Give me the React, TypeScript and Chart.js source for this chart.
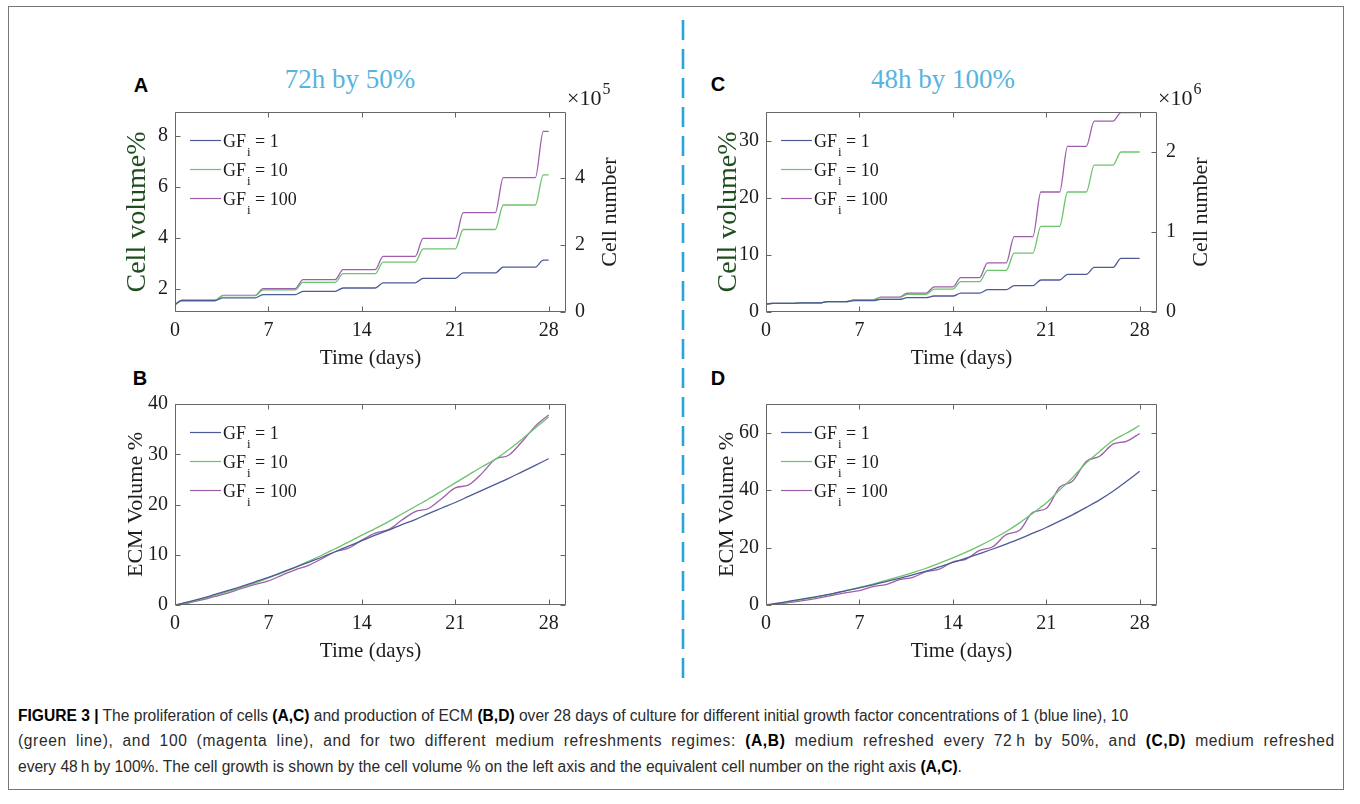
import React, { useEffect, useLayoutEffect, useRef } from "react";
import { Chart, registerables } from "chart.js";

Chart.register(...registerables);

// ---------------- data ----------------
const xTicks = [0, 7, 14, 21, 28];
const X_MAX = 29.3;
const gfLabels = ["1", "10", "100"];

// Panel A: cell volume %, medium refreshed every 72 h by 50%
const daysA = [0, 0.5, 3, 3.6, 6, 6.6, 9, 9.6, 12, 12.6, 15, 15.6, 18, 18.6, 21, 21.6, 24, 24.6, 27, 27.6, 28];
const cellA_gf1 = [1.38, 1.55, 1.55, 1.65, 1.65, 1.78, 1.78, 1.91, 1.91, 2.04, 2.04, 2.24, 2.24, 2.42, 2.42, 2.63, 2.63, 2.86, 2.86, 3.13, 3.13];
const cellA_gf10 = [1.38, 1.55, 1.55, 1.74, 1.74, 1.97, 1.97, 2.26, 2.26, 2.6, 2.6, 3.05, 3.05, 3.57, 3.57, 4.33, 4.33, 5.29, 5.29, 6.47, 6.47];
const cellA_gf100 = [1.38, 1.55, 1.55, 1.75, 1.75, 2.01, 2.01, 2.37, 2.37, 2.76, 2.76, 3.28, 3.28, 3.98, 3.98, 4.99, 4.99, 6.36, 6.36, 8.17, 8.17];
const cellA_leftTicks = [2, 4, 6, 8];
const cellA_rightTicks = [0, 2, 4];

// Panel C: cell volume %, medium refreshed every 48 h by 100%
const daysC = [0, 0.5, 2, 2.6, 4, 4.6, 6, 6.6, 8, 8.6, 10, 10.6, 12, 12.6, 14, 14.6, 16, 16.6, 18, 18.6, 20, 20.6, 22, 22.6, 24, 24.6, 26, 26.6, 28];
const cellC_gf1 = [1.4, 1.5, 1.5, 1.6, 1.6, 1.8, 1.8, 2.0, 2.0, 2.2, 2.2, 2.5, 2.5, 2.8, 2.8, 3.3, 3.3, 3.9, 3.9, 4.6, 4.6, 5.6, 5.6, 6.6, 6.6, 7.8, 7.8, 9.4, 9.4];
const cellC_gf10 = [1.4, 1.5, 1.5, 1.6, 1.6, 1.8, 1.8, 2.1, 2.1, 2.5, 2.5, 3.1, 3.1, 4.0, 4.0, 5.3, 5.3, 7.3, 7.3, 10.3, 10.3, 15.0, 15.0, 21.0, 21.0, 25.7, 25.7, 28.0, 28.0];
const cellC_gf100 = [1.4, 1.5, 1.5, 1.6, 1.6, 1.8, 1.8, 2.1, 2.1, 2.6, 2.6, 3.3, 3.3, 4.4, 4.4, 6.0, 6.0, 8.6, 8.6, 13.2, 13.2, 21.0, 21.0, 29.0, 29.0, 33.4, 33.4, 34.9, 34.9];
const cellC_leftTicks = [0, 10, 20, 30];
const cellC_rightTicks = [0, 1, 2];

// Panels B and D: ECM volume %, sampled daily
const daysECM = [0, 1, 2, 3, 4, 5, 6, 7, 8, 9, 10, 11, 12, 13, 14, 15, 16, 17, 18, 19, 20, 21, 22, 23, 24, 25, 26, 27, 28];
const ecmB_gf1 = [0, 0.6, 1.3, 2.1, 2.9, 3.7, 4.6, 5.5, 6.5, 7.5, 8.5, 9.5, 10.6, 11.7, 12.8, 13.9, 14.9, 16.0, 17.0, 18.2, 19.3, 20.4, 21.6, 22.8, 24.0, 25.2, 26.5, 27.8, 29.1];
const ecmB_gf10 = [0, 0.5, 1.2, 1.9, 2.7, 3.5, 4.4, 5.4, 6.4, 7.5, 8.7, 9.9, 11.2, 12.5, 13.9, 15.2, 16.6, 18.1, 19.6, 21.1, 22.7, 24.3, 25.9, 27.5, 29.0, 30.9, 33.0, 35.2, 37.4];
const ecmB_gf100 = [0, 0.4, 1.0, 1.7, 2.4, 3.3, 4.1, 4.8, 5.9, 7.0, 7.9, 9.2, 10.6, 11.3, 12.9, 14.3, 15.0, 16.9, 18.6, 19.2, 21.2, 23.3, 23.9, 26.2, 29.0, 29.8, 32.5, 35.6, 37.8];
const ecmB_ticks = [0, 10, 20, 30, 40];

const ecmD_gf1 = [0, 0.7, 1.5, 2.3, 3.1, 4.0, 5.0, 6.0, 7.0, 8.1, 9.3, 10.5, 11.8, 13.3, 14.8, 16.3, 17.9, 19.5, 21.2, 23.0, 25.0, 27.0, 29.2, 31.5, 34.0, 36.6, 39.6, 43.0, 46.6];
const ecmD_gf10 = [0, 0.6, 1.3, 2.1, 3.0, 3.9, 5.0, 6.1, 7.3, 8.6, 9.9, 11.3, 12.8, 14.6, 16.4, 18.4, 20.6, 23.0, 25.6, 28.6, 32.0, 35.5, 40.0, 44.5, 49.5, 53.5, 57.3, 59.8, 62.5];
const ecmD_gf100 = [0, 0.4, 1.0, 1.7, 2.5, 3.4, 4.3, 5.0, 6.4, 7.1, 8.8, 9.6, 11.6, 12.5, 15.0, 16.0, 19.0, 20.3, 24.5, 26.0, 32.3, 33.6, 41.0, 43.3, 50.0, 51.8, 56.0, 57.0, 59.7];
const ecmD_ticks = [0, 20, 40, 60];

// ---------------- styles ----------------
const SERIF = '"Liberation Serif", "DejaVu Serif", serif';
const SANS = '"Liberation Sans", Arial, sans-serif';
const COLORS = ["#4d5a98", "#6cc36c", "#9d5fab"];
const AXIS_COLOR = "#666666";
const TEXT_COLOR = "#1c1c1c";
const TITLE_BLUE = "#58b4dd";

const WL = 75;
const WR = 90;
const PT = 45;
const HB = 62;

type RightAxis = { max: number; ticks: number[]; exp: string };
type PanelSpec = {
  left: number;
  top: number;
  width: number;
  height: number;
  days: number[];
  series: number[][];
  yMin: number;
  yMax: number;
  yTicks: number[];
  yTitle: string;
  yTitleColor: string;
  yTitleSize: number;
  yTitleCenter: number;
  right?: RightAxis;
};

const panelA: PanelSpec = {
  left: 175, top: 112, width: 391, height: 200,
  days: daysA, series: [cellA_gf1, cellA_gf10, cellA_gf100],
  yMin: 1.1, yMax: 8.93, yTicks: cellA_leftTicks,
  yTitle: "Cell volume%", yTitleColor: "#1f4d1f", yTitleSize: 28, yTitleCenter: 138,
  right: { max: 5.95, ticks: cellA_rightTicks, exp: "5" },
};
const panelB: PanelSpec = {
  left: 175, top: 404, width: 391, height: 201,
  days: daysECM, series: [ecmB_gf1, ecmB_gf10, ecmB_gf100],
  yMin: 0, yMax: 40, yTicks: ecmB_ticks,
  yTitle: "ECM Volume %", yTitleColor: TEXT_COLOR, yTitleSize: 22, yTitleCenter: 136,
};
const panelC: PanelSpec = {
  left: 766, top: 112, width: 391, height: 200,
  days: daysC, series: [cellC_gf1, cellC_gf10, cellC_gf100],
  yMin: 0, yMax: 35, yTicks: cellC_leftTicks,
  yTitle: "Cell volume%", yTitleColor: "#1f4d1f", yTitleSize: 28, yTitleCenter: 729,
  right: { max: 2.5, ticks: cellC_rightTicks, exp: "6" },
};
const panelD: PanelSpec = {
  left: 766, top: 404, width: 391, height: 201,
  days: daysECM, series: [ecmD_gf1, ecmD_gf10, ecmD_gf100],
  yMin: 0, yMax: 70, yTicks: ecmD_ticks,
  yTitle: "ECM Volume %", yTitleColor: TEXT_COLOR, yTitleSize: 22, yTitleCenter: 727,
};

// ---------------- plugin: MATLAB-like box, inward ticks, legend, right title ----------------
const matlabPlugin = {
  id: "matlab",
  afterDatasetsDraw(chart: any, _args: any, opts: any) {
    const { ctx, chartArea: a, scales } = chart;
    const L = Math.round(a.left) + 0.5;
    const R = Math.round(a.right) - 0.5;
    const T = Math.round(a.top) + 0.5;
    const B = Math.round(a.bottom) - 0.5;
    const TL = 5;
    ctx.save();
    ctx.strokeStyle = AXIS_COLOR;
    ctx.lineWidth = 1;
    ctx.beginPath();
    ctx.rect(L, T, R - L, B - T);
    scales.x.ticks.forEach((t: any) => {
      const px = Math.round(scales.x.getPixelForValue(t.value)) + 0.5;
      ctx.moveTo(px, B);
      ctx.lineTo(px, B - TL);
      ctx.moveTo(px, T);
      ctx.lineTo(px, T + TL);
    });
    scales.y.ticks.forEach((t: any) => {
      const py = Math.round(scales.y.getPixelForValue(t.value)) + 0.5;
      ctx.moveTo(L, py);
      ctx.lineTo(L + TL, py);
      if (!scales.y1) {
        ctx.moveTo(R, py);
        ctx.lineTo(R - TL, py);
      }
    });
    if (scales.y1) {
      scales.y1.ticks.forEach((t: any) => {
        const py = Math.round(scales.y1.getPixelForValue(t.value)) + 0.5;
        ctx.moveTo(R, py);
        ctx.lineTo(R - TL, py);
      });
    }
    ctx.stroke();

    // legend (MATLAB style, no box)
    const rows = [28, 57, 86];
    chart.data.datasets.forEach((ds: any, i: number) => {
      const y = Math.round(a.top + rows[i]) + 0.5;
      ctx.strokeStyle = ds.borderColor;
      ctx.lineWidth = 1.2;
      ctx.beginPath();
      ctx.moveTo(a.left + 15, y);
      ctx.lineTo(a.left + 46, y);
      ctx.stroke();
      ctx.fillStyle = TEXT_COLOR;
      ctx.textAlign = "left";
      ctx.textBaseline = "alphabetic";
      let x = a.left + 48;
      ctx.font = `18px ${SERIF}`;
      ctx.fillText("GF", x, y + 6);
      x += ctx.measureText("GF").width;
      ctx.font = `13px ${SERIF}`;
      ctx.fillText("i", x + 1, y + 15);
      x += ctx.measureText("i").width + 1;
      ctx.font = `18px ${SERIF}`;
      ctx.fillText(" = " + ds.label, x, y + 6);
    });

    // right axis title and exponent
    if (opts && opts.rightTitle) {
      ctx.fillStyle = TEXT_COLOR;
      ctx.font = `22px ${SERIF}`;
      ctx.save();
      ctx.translate(a.right + 44, (a.top + a.bottom) / 2);
      ctx.rotate(-Math.PI / 2);
      ctx.textAlign = "center";
      ctx.textBaseline = "middle";
      ctx.fillText(opts.rightTitle, 0, 0);
      ctx.restore();

      ctx.textAlign = "left";
      ctx.textBaseline = "alphabetic";
      ctx.font = `22px ${SERIF}`;
      const base = "\u00d710";
      ctx.fillText(base, a.right + 1, a.top - 7);
      const w = ctx.measureText(base).width;
      ctx.font = `16px ${SERIF}`;
      ctx.fillText(opts.exp, a.right + 2 + w, a.top - 18);
    }
    ctx.restore();
  },
};

function Panel({ spec }: { spec: PanelSpec }) {
  const ref = useRef<HTMLCanvasElement>(null);
  const cw = WL + spec.width + WR;
  const ch = PT + spec.height + HB;

  useEffect(() => {
    const canvas = ref.current;
    if (!canvas) return;
    const hasRight = !!spec.right;
    const tickFont = { family: SERIF, size: 20 };
    const yTitleLh = spec.yTitleSize * 1.2;
    const canvasLeft = spec.left - WL;
    const yTitlePad = spec.yTitleCenter - canvasLeft - yTitleLh / 2;
    const xTitleSize = 21;
    const xTitlePad = HB - (xTitleSize * 1.2) / 2 - 46;

    const scales: any = {
      x: {
        type: "linear",
        min: 0,
        max: X_MAX,
        afterBuildTicks: (s: any) => {
          s.ticks = xTicks.map((v) => ({ value: v }));
        },
        afterFit: (s: any) => {
          s.height = HB;
        },
        grid: { display: false, drawTicks: false },
        border: { display: false },
        ticks: { font: tickFont, color: TEXT_COLOR, padding: 7, maxRotation: 0, autoSkip: false },
        title: {
          display: true,
          text: "Time (days)",
          color: TEXT_COLOR,
          font: { family: SERIF, size: xTitleSize },
          padding: { top: 0, bottom: xTitlePad },
        },
      },
      y: {
        type: "linear",
        position: "left",
        min: spec.yMin,
        max: spec.yMax,
        afterBuildTicks: (s: any) => {
          s.ticks = spec.yTicks.map((v) => ({ value: v }));
        },
        afterFit: (s: any) => {
          s.width = WL;
        },
        grid: { display: false, drawTicks: false },
        border: { display: false },
        ticks: { font: tickFont, color: TEXT_COLOR, padding: 7, autoSkip: false },
        title: {
          display: true,
          text: spec.yTitle,
          color: spec.yTitleColor,
          font: { family: SERIF, size: spec.yTitleSize },
          padding: { top: yTitlePad, bottom: 0 },
        },
      },
    };
    if (hasRight && spec.right) {
      const r = spec.right;
      scales.y1 = {
        type: "linear",
        position: "right",
        min: 0,
        max: r.max,
        afterBuildTicks: (s: any) => {
          s.ticks = r.ticks.map((v) => ({ value: v }));
        },
        afterFit: (s: any) => {
          s.width = WR;
        },
        grid: { display: false, drawTicks: false },
        border: { display: false },
        ticks: { font: tickFont, color: TEXT_COLOR, padding: 9, autoSkip: false },
      };
    }

    const chart = new Chart(canvas, {
      type: "line",
      data: {
        datasets: spec.series.map((vals, i) => ({
          label: gfLabels[i],
          data: spec.days.map((d, j) => ({ x: d, y: vals[j] })),
          borderColor: COLORS[i],
          backgroundColor: COLORS[i],
          borderWidth: 1.3,
          pointRadius: 0,
          fill: false,
          cubicInterpolationMode: "monotone",
          yAxisID: "y",
        })),
      },
      options: {
        responsive: false,
        animation: false,
        layout: { padding: { top: PT, left: 0, right: hasRight ? 0 : WR, bottom: 0 } },
        plugins: {
          legend: { display: false },
          tooltip: { enabled: false },
          matlab: hasRight && spec.right ? { rightTitle: "Cell number", exp: spec.right.exp } : { rightTitle: "" },
        } as any,
        scales,
      },
      plugins: [matlabPlugin],
    } as any);
    return () => chart.destroy();
  }, [spec]);

  return (
    <canvas
      ref={ref}
      width={cw}
      height={ch}
      style={{ position: "absolute", left: spec.left - WL, top: spec.top - PT, width: cw, height: ch }}
    />
  );
}

// ---------------- caption ----------------
type Seg = [string, boolean];
const captionLines: Seg[][] = [
  [
    ["FIGURE 3 |", true],
    [" The proliferation of cells ", false],
    ["(A,C)", true],
    [" and production of ECM ", false],
    ["(B,D)", true],
    [" over 28 days of culture for different initial growth factor concentrations of 1 (blue line), 10", false],
  ],
  [
    ["(green line), and 100 (magenta line), and for two different medium refreshments regimes: ", false],
    ["(A,B)", true],
    [" medium refreshed every 72\u2009h by 50%, and ", false],
    ["(C,D)", true],
    [" medium refreshed", false],
  ],
  [
    ["every 48\u2009h by 100%. The cell growth is shown by the cell volume % on the left axis and the equivalent cell number on the right axis ", false],
    ["(A,C)", true],
    [".", false],
  ],
];
const CAPTION_WIDTHS = [1109, 1317, 945];
const CAPTION_Y = [716, 741, 767];

function Caption() {
  const refs = useRef<(HTMLSpanElement | null)[]>([]);
  useLayoutEffect(() => {
    const fit = () => {
      const els = refs.current;
      if (els.some((e) => !e)) return;
      els.forEach((el) => {
        el!.style.transform = "none";
        el!.style.wordSpacing = "0px";
        el!.style.letterSpacing = "0px";
      });
      const w1 = els[0]!.offsetWidth;
      const w3 = els[2]!.offsetWidth;
      if (!w1 || !w3) return;
      const s = (CAPTION_WIDTHS[0] + CAPTION_WIDTHS[2]) / (w1 + w3);
      // spread the middle line to its width: half through letters, half through word gaps
      const w2 = els[1]!.offsetWidth;
      const text2 = captionLines[1].map((sg) => sg[0]).join("");
      const spaces = (text2.match(/ /g) || []).length;
      const chars = text2.length;
      const extra = CAPTION_WIDTHS[1] / s - w2;
      if (extra > 0) {
        els[1]!.style.letterSpacing = `${(extra * 0.5) / chars}px`;
        els[1]!.style.wordSpacing = `${(extra * 0.5) / spaces}px`;
      }
      els.forEach((el) => {
        el!.style.transform = `scaleX(${s})`;
      });
    };
    fit();
    const d: any = document;
    if (d.fonts && d.fonts.ready) d.fonts.ready.then(fit);
  }, []);
  return (
    <>
      {captionLines.map((line, i) => (
        <span
          key={i}
          ref={(el) => {
            refs.current[i] = el;
          }}
          style={{
            position: "absolute",
            left: 18,
            top: CAPTION_Y[i] - 10,
            height: 20,
            lineHeight: "20px",
            whiteSpace: "pre",
            display: "inline-block",
            transformOrigin: "0 50%",
            fontFamily: '"Liberation Sans Narrow", "Liberation Sans", Arial, sans-serif',
            fontSize: 16,
            color: "#2a2a2a",
          }}
        >
          {line.map(([t, b], j) => (
            <span key={j} style={{ fontWeight: b ? 700 : 400, color: b ? "#000" : "#2a2a2a" }}>
              {t}
            </span>
          ))}
        </span>
      ))}
    </>
  );
}

function Letter({ text, x, y }: { text: string; x: number; y: number }) {
  return (
    <div
      style={{
        position: "absolute",
        left: x - 20,
        top: y - 12,
        width: 40,
        height: 24,
        lineHeight: "24px",
        textAlign: "center",
        fontFamily: SANS,
        fontWeight: 700,
        fontSize: 20,
        color: "#000",
      }}
    >
      {text}
    </div>
  );
}

function PanelTitle({ text, x, y }: { text: string; x: number; y: number }) {
  return (
    <div
      style={{
        position: "absolute",
        left: x - 120,
        top: y - 17,
        width: 240,
        height: 34,
        lineHeight: "34px",
        textAlign: "center",
        fontFamily: SERIF,
        fontSize: 27,
        color: TITLE_BLUE,
        whiteSpace: "nowrap",
      }}
    >
      {text}
    </div>
  );
}

export default function App() {
  return (
    <div
      style={{
        position: "absolute",
        left: 0,
        top: 0,
        width: 1360,
        height: 804,
        background: "#fff",
        overflow: "hidden",
      }}
    >
      <div
        style={{
          position: "absolute",
          left: 8,
          top: 6,
          width: 1336,
          height: 784,
          border: "1px solid #777",
          boxSizing: "border-box",
        }}
      />
      <svg style={{ position: "absolute", left: 0, top: 0 }} width={1360} height={804}>
        <line x1={683} y1={20} x2={683} y2={686} stroke="#2aa3d8" strokeWidth={2.6} strokeDasharray="20 9" />
      </svg>
      <Letter text="A" x={141} y={85} />
      <Letter text="B" x={140} y={378} />
      <Letter text="C" x={718} y={84} />
      <Letter text="D" x={718} y={378} />
      <PanelTitle text="72h by 50%" x={350} y={79} />
      <PanelTitle text="48h by 100%" x={943} y={79} />
      <Panel spec={panelA} />
      <Panel spec={panelB} />
      <Panel spec={panelC} />
      <Panel spec={panelD} />
      <Caption />
    </div>
  );
}
